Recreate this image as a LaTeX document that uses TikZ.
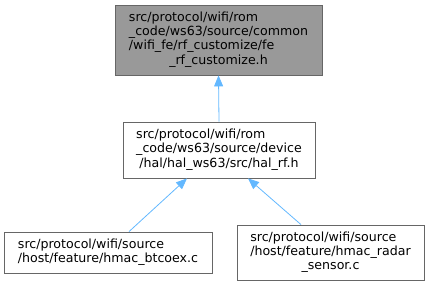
\documentclass[tikz,border=0pt]{standalone}
\usepackage{fontspec}
\setmainfont{DejaVu Sans}
\usetikzlibrary{arrows.meta,calc}
\definecolor{edgeblue}{HTML}{63B8FF}
\definecolor{boxline}{HTML}{666666}
\definecolor{focusfill}{HTML}{999999}
\tikzset{
  filebox/.style={draw=boxline, line width=0.8pt, fill=white, inner sep=0pt, minimum width=#1},
  focusbox/.style={filebox=#1, fill=focusfill},
  dep/.style={draw=edgeblue, line width=0.8pt, -{Triangle[length=11pt,width=9pt,fill=edgeblue]}},
}
\newcommand{\boxfont}{\fontsize{12.6}{14.2}\selectfont}
\begin{document}
\begin{tikzpicture}[x=1pt,y=1pt,font=\boxfont]
\useasboundingbox (0,0) rectangle (429,-285);
\node[focusbox=207pt, minimum height=70pt] (top) at (218.5,-40)
  {\begin{tabular}{@{}l@{}}src/protocol/wifi/rom\\\_code/ws63/source/common\\/wifi\_fe/rf\_customize/fe\\\multicolumn{1}{@{}c@{}}{\_rf\_customize.h}\end{tabular}};
\node[filebox=192pt, minimum height=56pt] (mid) at (219,-150)
  {\begin{tabular}{@{}l@{}}src/protocol/wifi/rom\\\_code/ws63/source/device\\\multicolumn{1}{@{}c@{}}{/hal/hal\_ws63/src/hal\_rf.h}\end{tabular}};
\node[filebox=208pt, minimum height=41pt] (bl) at (108,-252.5)
  {\begin{tabular}{@{}l@{}}src/protocol/wifi/source\\\multicolumn{1}{@{}c@{}}{/host/feature/hmac\_btcoex.c}\end{tabular}};
\node[filebox=187pt, minimum height=55pt] (br) at (330.5,-252.5)
  {\begin{tabular}{@{}l@{}}src/protocol/wifi/source\\/host/feature/hmac\_radar\\\multicolumn{1}{@{}c@{}}{\_sensor.c}\end{tabular}};
\draw[dep] (mid.north) -- (top.south);
\draw[dep] ($(bl.north)+(21,0)$) -- ($(mid.south)+(-32,0)$);
\draw[dep] ($(br.north)+(-29.5,0)$) -- ($(mid.south)+(29,0)$);
\end{tikzpicture}
\end{document}
